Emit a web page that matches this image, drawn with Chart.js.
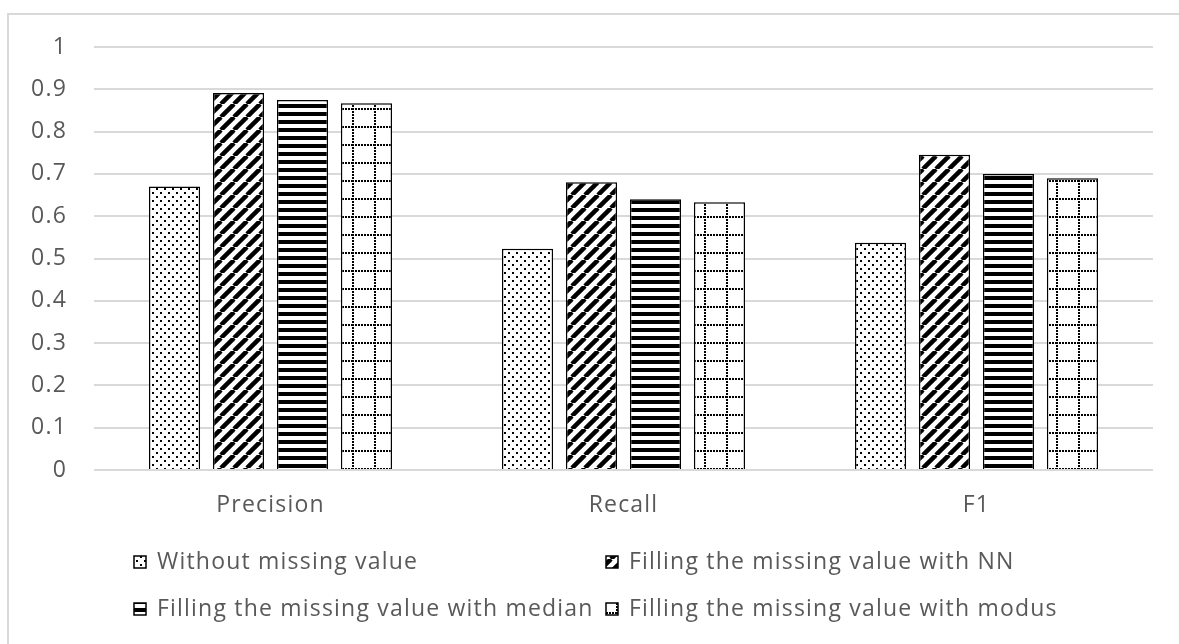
<!DOCTYPE html>
<html>
<head>
<meta charset="utf-8">
<script src="https://cdn.jsdelivr.net/npm/chart.js@4/dist/chart.umd.min.js"></script>
<style>
  html, body { margin: 0; padding: 0; background: #fff; }
  #wrap { width: 1179px; height: 644px; position: relative; }
</style>
</head>
<body>
<div id="wrap"><canvas id="c" width="1179" height="644"></canvas></div>
<script>
// Evaluation metrics per imputation strategy
const categories = ['Precision', 'Recall', 'F1'];
const seriesNames = [
  'Without missing value',
  'Filling the missing value with NN',
  'Filling the missing value with median',
  'Filling the missing value with modus'
];
const withoutMissing = [0.670, 0.523, 0.537];
const fillNN         = [0.891, 0.680, 0.745];
const fillMedian     = [0.875, 0.640, 0.700];
const fillModus      = [0.867, 0.633, 0.690];
const yTicks = [0, 0.1, 0.2, 0.3, 0.4, 0.5, 0.6, 0.7, 0.8, 0.9, 1];

const FONT = "'Open Sans', 'Noto Sans', sans-serif";
const FONT_SIZE = 23;
const SPACING = '1.2px';
const TEXT = '#595959';
const GRID = '#d9d9d9';

// --- monochrome fill patterns ---------------------------------------
function makeTile(w, h, paint) {
  const cv = document.createElement('canvas');
  cv.width = w; cv.height = h;
  const g = cv.getContext('2d');
  g.fillStyle = '#fff';
  g.fillRect(0, 0, w, h);
  g.fillStyle = '#000';
  g.strokeStyle = '#000';
  paint(g, w, h);
  return cv;
}
const tiles = [
  // sparse staggered dots
  makeTile(8, 8, g => {
    g.fillRect(0, 0, 2, 2);
    g.fillRect(4, 4, 2, 2);
  }),
  // wide forward diagonal stripes
  makeTile(13, 13, (g, w) => {
    g.lineWidth = 4.5;
    for (const o of [-w, 0, w]) {
      g.beginPath();
      g.moveTo(o, w);
      g.lineTo(o + w, 0);
      g.stroke();
    }
  }),
  // horizontal stripes
  makeTile(8, 8, g => {
    g.fillRect(0, 0, 8, 4);
  }),
  // dotted grid
  makeTile(22, 18, g => {
    for (let x = 0; x < 22; x += 3) g.fillRect(x, 0, 2, 2);
    for (let y = 0; y < 18; y += 3) g.fillRect(0, y, 2, 2);
  })
];
const ctx = document.getElementById('c').getContext('2d');
const patterns = tiles.map(t => ctx.createPattern(t, 'repeat'));

const seriesValues = [withoutMissing, fillNN, fillMedian, fillModus];

// wider tracking for every label the chart draws
const tracking = {
  id: 'tracking',
  beforeLayout(chart) { chart.ctx.letterSpacing = SPACING; },
  beforeDraw(chart) { chart.ctx.letterSpacing = SPACING; }
};

// --- frame and legend drawn around the chart ------------------------
const frame = {
  id: 'frame',
  beforeDraw(chart) {
    const c = chart.ctx;
    c.save();
    c.fillStyle = '#fff';
    c.fillRect(0, 0, chart.width, chart.height);
    c.strokeStyle = GRID;
    c.lineWidth = 2;
    c.strokeRect(8, 14, chart.width + 20, chart.height + 20);
    c.restore();
  }
};

const gridLegend = {
  id: 'gridLegend',
  afterDraw(chart) {
    const c = chart.ctx;
    const cols = [134, 606];
    const rows = [562, 609];
    c.save();
    c.letterSpacing = SPACING;
    c.font = FONT_SIZE + 'px ' + FONT;
    c.textBaseline = 'middle';
    chart.data.datasets.forEach((ds, i) => {
      const x = cols[i % 2];
      const y = rows[Math.floor(i / 2)];
      c.fillStyle = ds.backgroundColor;
      c.fillRect(x, y - 6, 12, 12);
      c.strokeStyle = '#000';
      c.lineWidth = 1.5;
      c.strokeRect(x, y - 6, 12, 12);
      c.fillStyle = TEXT;
      c.fillText(ds.label, x + 23, y);
    });
    c.restore();
  }
};

new Chart(ctx, {
  type: 'bar',
  data: {
    labels: categories,
    datasets: seriesNames.map((name, i) => ({
      label: name,
      data: seriesValues[i],
      backgroundColor: patterns[i],
      borderColor: '#000',
      borderWidth: 1.5,
      categoryPercentage: 0.725,
      barPercentage: 0.8
    }))
  },
  options: {
    responsive: false,
    animation: false,
    layout: { padding: { left: 0, right: 26, top: 47, bottom: 124 } },
    plugins: {
      legend: { display: false },
      tooltip: { enabled: false }
    },
    scales: {
      x: {
        grid: { display: false, drawTicks: false },
        border: { display: false },
        ticks: { color: TEXT, font: { family: FONT, size: FONT_SIZE }, padding: 22 },
        afterFit(s) { s.height = 50; }
      },
      y: {
        min: 0, max: 1,
        afterBuildTicks(s) { s.ticks = yTicks.map(v => ({ value: v })); },
        grid: { color: GRID, lineWidth: 2, drawTicks: false },
        border: { display: false },
        ticks: { color: TEXT, font: { family: FONT, size: FONT_SIZE }, padding: 27,
                 callback: v => String(v) },
        afterFit(s) { s.width = 94; }
      }
    }
  },
  plugins: [tracking, frame, gridLegend]
});
</script>
</body>
</html>
